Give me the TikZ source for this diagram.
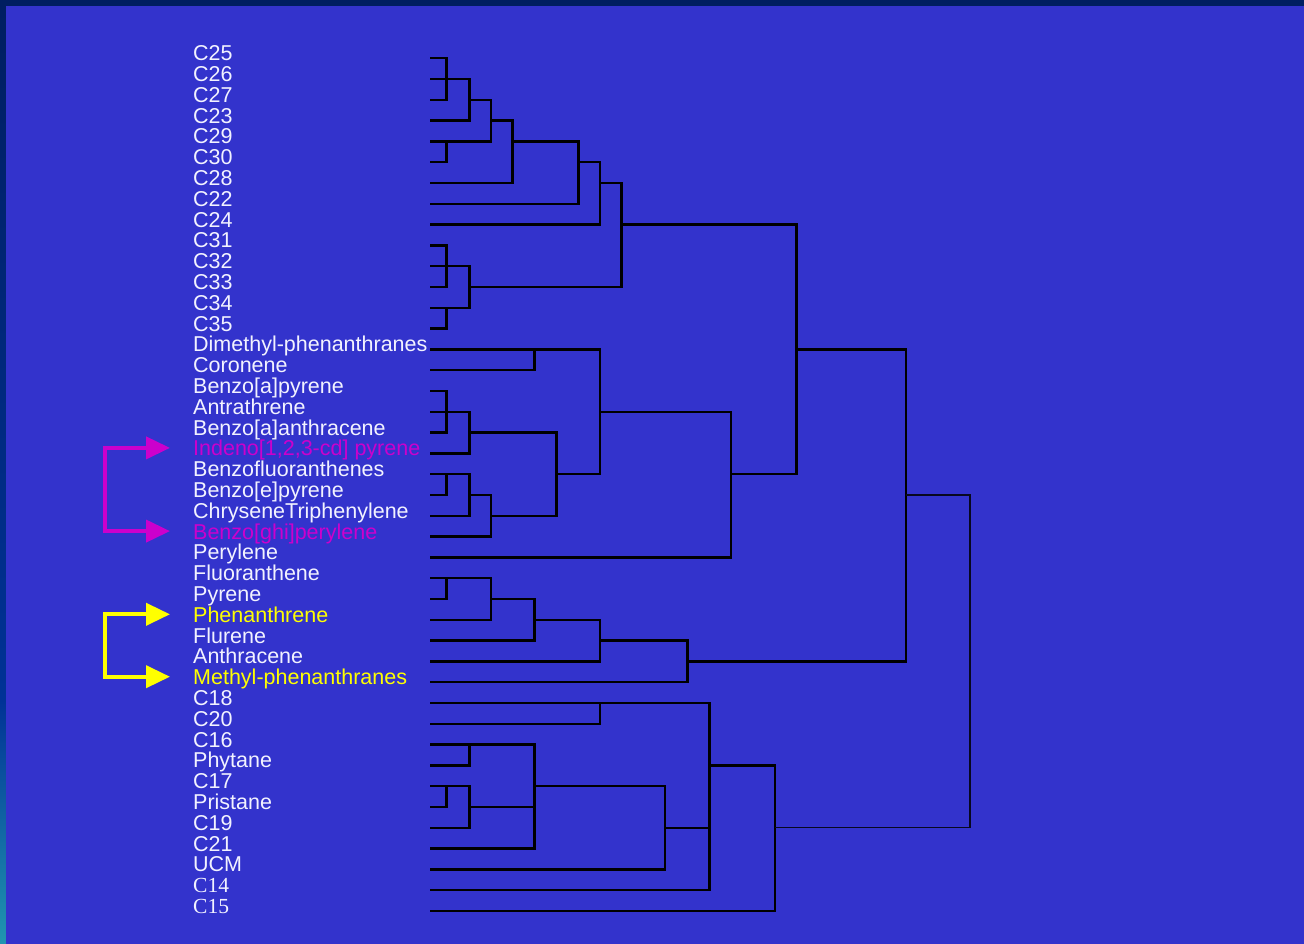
\documentclass[tikz,border=0pt]{standalone}
\usepackage{fontspec}
\setmainfont{Liberation Sans}
\newfontfamily\serifalt{Liberation Serif}
\usetikzlibrary{arrows.meta}
\definecolor{slide}{RGB}{51,51,204}
\definecolor{frame}{RGB}{0,30,96}
\definecolor{frameblue}{RGB}{0,50,150}
\definecolor{frameend}{RGB}{32,150,176}
\definecolor{labeltxt}{RGB}{242,242,255}
\definecolor{hilitem}{RGB}{204,0,204}
\definecolor{hilitey}{RGB}{255,255,0}

\begin{document}
\begin{tikzpicture}[x=1pt, y=-1pt,
    lbl/.style={anchor=base west, inner sep=0pt, font=\fontsize{21.5}{24}\selectfont},
    link/.style={draw=black, line width=2.5pt},
    rootlink/.style={draw=black!85!slide, line width=1.2pt},
    hiarrow/.style={line width=4pt,
      {Triangle[length=24pt,width=22pt]}-{Triangle[length=24pt,width=22pt]}},
  ]
  \useasboundingbox (0,0) rectangle (1304,944);
  % slide background
  \fill[frame] (0,0) rectangle (1304,944);
  \shade[top color=frame, bottom color=frameblue] (0,0) rectangle (6,700);
  \shade[top color=frameblue, bottom color=frameend] (0,700) rectangle (6,944);
  \fill[slide] (6,6) rectangle (1304,944);

  % leaf rows and labels
  \foreach \i in {1,...,42}
    \coordinate (r\i) at (430, {58.2+20.8*(\i-1)});
  \foreach \txt/\col [count=\i] in {C25/labeltxt, C26/labeltxt, C27/labeltxt,
      C23/labeltxt, C29/labeltxt, C30/labeltxt, C28/labeltxt, C22/labeltxt,
      C24/labeltxt, C31/labeltxt, C32/labeltxt, C33/labeltxt, C34/labeltxt,
      C35/labeltxt, Dimethyl-phenanthranes/labeltxt, Coronene/labeltxt,
      Benzo[a]pyrene/labeltxt, Antrathrene/labeltxt, Benzo[a]anthracene/labeltxt,
      {Indeno[1,2,3-cd] pyrene}/hilitem, Benzofluoranthenes/labeltxt,
      Benzo[e]pyrene/labeltxt, ChryseneTriphenylene/labeltxt,
      Benzo[ghi]perylene/hilitem, Perylene/labeltxt, Fluoranthene/labeltxt,
      Pyrene/labeltxt, Phenanthrene/hilitey, Flurene/labeltxt,
      Anthracene/labeltxt, Methyl-phenanthranes/hilitey, C18/labeltxt,
      C20/labeltxt, C16/labeltxt, Phytane/labeltxt, C17/labeltxt,
      Pristane/labeltxt, C19/labeltxt, C21/labeltxt, UCM/labeltxt,
      {\serifalt C14}/labeltxt, {\serifalt C15}/labeltxt}
    \node[lbl, text=\col] (n\i) at ([xshift=-237pt, yshift=-2.5pt]r\i) {\txt};

  % C22--C35
  \coordinate (a1) at (446.7,0 |- r2);
  \draw[link] (r1) -| (a1) |- (r3); \draw[link] (r2) -- (a1);
  \coordinate (a2) at (469.3,0 |- r3);
  \draw[link] (a1) -| (a2) |- (r4);
  \coordinate (a3) at (446.7,0 |- r5);
  \draw[link] (r5) -| (a3) |- (r6);
  \coordinate (a4) at (491,0 |- r4);
  \draw[link] (a2) -| (a4) |- (a3);
  \coordinate (a5) at (512.3,0 |- r5);
  \draw[link] (a4) -| (a5) |- (r7);
  \coordinate (a6) at (578.3,0 |- r6);
  \draw[link] (a5) -| (a6) |- (r8);
  \coordinate (a7) at (600,0 |- r7);
  \draw[link] (a6) -| (a7) |- (r9);
  \coordinate (a8) at (446.7,0 |- r11);
  \draw[link] (r10) -| (a8) |- (r12); \draw[link] (r11) -- (a8);
  \coordinate (a9) at (446.7,0 |- r13);
  \draw[link] (r13) -| (a9) |- (r14);
  \coordinate (a10) at (469.3,0 |- r12);
  \draw[link] (a8) -| (a10) |- (a9);
  \coordinate (a11) at (621.7,0 |- r9);
  \draw[link] (a7) -| (a11) |- (a10);

  % heavy aromatics
  \coordinate (b1) at (534.3,0 |- r15);
  \draw[link] (r15) -| (b1) |- (r16);
  \coordinate (b2) at (446.7,0 |- r18);
  \draw[link] (r17) -| (b2) |- (r19); \draw[link] (r18) -- (b2);
  \coordinate (b3) at (469.3,0 |- r19);
  \draw[link] (b2) -| (b3) |- (r20);
  \coordinate (b4) at (446.7,0 |- r21);
  \draw[link] (r21) -| (b4) |- (r22);
  \coordinate (b5) at (469.3,0 |- r22);
  \draw[link] (b4) -| (b5) |- (r23);
  \coordinate (b6) at (491,0 |- r23);
  \draw[link] (b5) -| (b6) |- (r24);
  \coordinate (b7) at (556.7,0 |- r21);
  \draw[link] (b3) -| (b7) |- (b6);
  \coordinate (b8) at (600,0 |- r18);
  \draw[link] (b1) -| (b8) |- (b7);
  \coordinate (b9) at (731,0 |- r21);
  \draw[link] (b8) -| (b9) |- (r25);
  \coordinate (b10) at (796.7,0 |- r15);
  \draw[link] (a11) -| (b10) |- (b9);

  % light aromatics
  \coordinate (c1) at (446.7,0 |- r26);
  \draw[link] (r26) -| (c1) |- (r27);
  \coordinate (c2) at (491,0 |- r27);
  \draw[link] (c1) -| (c2) |- (r28);
  \coordinate (c3) at (534.3,0 |- r28);
  \draw[link] (c2) -| (c3) |- (r29);
  \coordinate (c4) at (600,0 |- r29);
  \draw[link] (c3) -| (c4) |- (r30);
  \coordinate (c5) at (687.7,0 |- r30);
  \draw[link] (c4) -| (c5) |- (r31);
  \coordinate (t1) at (906,0 |- r22);
  \draw[link] (b10) -| (t1) |- (c5);

  % C14--C21, isoprenoids, UCM
  \coordinate (d1) at (600,0 |- r32);
  \draw[link] (r32) -| (d1) |- (r33);
  \coordinate (d2) at (469.3,0 |- r34);
  \draw[link] (r34) -| (d2) |- (r35);
  \coordinate (d3) at (446.7,0 |- r36);
  \draw[link] (r36) -| (d3) |- (r37);
  \coordinate (d4) at (469.3,0 |- r37);
  \draw[link] (d3) -| (d4) |- (r38);
  \coordinate (d5) at (534.3,0 |- r36);
  \draw[link] (d2) -| (d5) |- (r39); \draw[link] (d4) -- (d4 -| d5);
  \coordinate (d6) at (665,0 |- r38);
  \draw[link] (d5) -| (d6) |- (r40);
  \coordinate (d7) at (709.3,0 |- r35);
  \draw[link] (d1) -| (d7) |- (r41); \draw[link] (d6) -- (d6 -| d7);
  \coordinate (d8) at (775,0 |- r38);
  \draw[link] (d7) -| (d8) |- (r42);
  \coordinate (t2) at (970,0 |- r30);
  \draw[rootlink] (t1) -| (t2) |- (d8);

  % highlight brackets
  \coordinate (hm1) at ([shift={(-23pt,8pt)}]n20.base west);
  \coordinate (hm2) at ([shift={(-23pt,8pt)}]n24.base west);
  \draw[hiarrow, hilitem] (hm1) -| ([xshift=-65pt]hm2) -- (hm2);
  \coordinate (hy1) at ([shift={(-23pt,8pt)}]n28.base west);
  \coordinate (hy2) at ([shift={(-23pt,8pt)}]n31.base west);
  \draw[hiarrow, hilitey] (hy1) -| ([xshift=-65pt]hy2) -- (hy2);
\end{tikzpicture}
\end{document}
